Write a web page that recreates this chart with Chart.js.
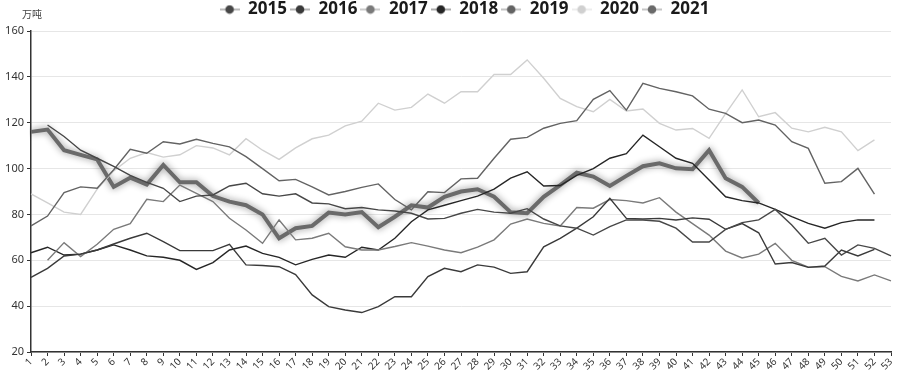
<!DOCTYPE html>
<html>
<head>
<meta charset="utf-8">
<script src="https://cdn.jsdelivr.net/npm/chart.js@4.4.1/dist/chart.umd.min.js"></script>
<style>
  html, body { margin: 0; padding: 0; background: #fff; }
  #wrap { width: 900px; height: 374px; position: relative; }
</style>
</head>
<body>
<div id="wrap"><canvas id="chart"></canvas></div>
<script>
// weekly stock, unit 万吨
const weeks = ['1','2','3','4','5','6','7','8','9','10','11','12','13','14','15','16','17','18','19','20',
  '21','22','23','24','25','26','27','28','29','30','31','32','33','34','35','36','37','38','39','40',
  '41','42','43','44','45','46','47','48','49','50','51','52','53'];

const years = ['2015', '2016', '2017', '2018', '2019', '2020', '2021'];

const y2015 = [null, 119, 114, 108, 104.5, 101, 97, 94, 91.4, 85.6, 88, 88.5, 92.4, 93.6, 89, 88, 89, 85, 84.6, 82.5,
  83, 82, 81.5, 80.5, 78, 78.3, 80.5, 82.2, 81, 80.5, 82.5, 78, 75, 74, 71, 74.7, 77.6, 77.6, 77, 74,
  68, 68, 73.5, 76.4, 77.6, 82.2, 75.4, 67.4, 69.6, 62.3, 66.7, 65.2, 61.9];

const y2016 = [52.5, 56.5, 61.9, 62.7, 64.5, 67.1, 69.6, 71.8, 68.1, 64.2, 64.2, 64.2, 67, 58, 57.7, 57.2, 53.8, 44.9, 39.8, 38.3,
  37.2, 39.8, 44.1, 44.1, 52.9, 56.5, 55, 58, 57, 54.3, 55, 65.9, 69.6, 74, 79, 87, 78.3, 78, 78.3, 77.6,
  78.5, 77.9, 73.5, 76, 72, 58.4, 59, 56.9, 57.5, 64.5, 61.9, 64.8];

const y2017 = [null, 60, 67.7, 61.6, 67, 73.5, 76, 86.6, 85.6, 92.8, 89.2, 85.6, 78.3, 73.2, 67.4, 77.6, 68.9, 69.6, 71.8, 65.9,
  64.5, 64.5, 66, 67.7, 66.2, 64.5, 63.3, 65.7, 68.9, 75.8, 78, 76.1, 75, 83, 82.7, 86.5, 86, 85, 87.3, 81,
  76, 71, 64, 61, 62.7, 67.4, 60, 57, 57.2, 53, 51, 53.6, 51];

const y2018 = [63.3, 65.7, 62.3, 62.7, 64.5, 66.7, 64.5, 61.9, 61.3, 60, 56, 59, 64.5, 66.2, 63, 61.3, 58, 60.4, 62.3, 61.3,
  65.7, 64.5, 69.6, 76.8, 82, 84, 86, 88, 91, 95.8, 98.6, 92.4, 92.6, 97, 100, 104.5, 106.5, 114.6, 109.5, 104.5,
  102.3, 95, 87.7, 86, 85, 82.2, 79, 76.1, 74, 76.4, 77.6, 77.6];

const y2019 = [75, 79.3, 89.5, 92, 91.4, 99.5, 108.4, 106.7, 111.7, 110.7, 112.8, 111, 109.5, 105.2, 100, 94.7, 95.3, 92, 88.5, 90,
  91.8, 93.3, 86.5, 82, 89.9, 89.5, 95.5, 95.8, 104.5, 112.8, 113.6, 117.6, 119.7, 120.9, 130.2, 134, 125.5, 137.2, 135, 133.5,
  131.7, 125.9, 124.1, 120, 121.2, 119, 111.7, 108.8, 93.6, 94.3, 100.1, 88.9];

const y2020 = [89, 85, 81, 80, 91, 99, 104.5, 107, 105, 106, 110, 109, 106, 113, 108, 104, 109, 113, 114.6, 118.6,
  120.7, 128.5, 125.5, 126.7, 132.5, 128.5, 133.5, 133.5, 141, 141, 147.4, 139.4, 130.6, 127, 124.8, 130.2, 125.1, 126, 119.7, 116.8,
  117.5, 113.2, 124, 134.3, 122.6, 124.4, 117.6, 116, 118, 116, 107.8, 112.5];

const y2021 = [116, 117, 108, 106, 104, 92, 96, 93, 101.6, 94, 94, 88, 85.6, 84, 80, 69.6, 74, 75, 80.8, 80,
  81, 74.4, 79, 84, 83, 87.7, 90, 91, 87.7, 81, 80.5, 87.7, 92.8, 98.2, 96.5, 92.4, 96.8, 101, 102.3, 100.1,
  99.7, 108, 95.8, 92, 85];

const yearData = [y2015, y2016, y2017, y2018, y2019, y2020, y2021];
const yearColors = ['#474747', '#3a3a3a', '#7a7a7a', '#262626', '#636363', '#d0d0d0', '#6a6a6a'];

const UNIT = '万吨';
const FONT = "'Noto Sans', 'Noto Sans CJK SC', sans-serif";

// legend marker: short line with a dot in the middle
function makeMarker(color) {
    const c = document.createElement('canvas');
    c.width = 20; c.height = 10;
    const g = c.getContext('2d');
    g.strokeStyle = color;
    g.globalAlpha = 0.5;
    g.lineWidth = 1.5;
    g.beginPath(); g.moveTo(0, 5); g.lineTo(20, 5); g.stroke();
    g.globalAlpha = 1;
    g.fillStyle = color;
    g.beginPath(); g.arc(10, 5, 4.3, 0, Math.PI * 2); g.fill();
    return c;
}
const markers = yearColors.map(makeMarker);

const datasets = years.map((yr, i) => ({
    label: yr,
    data: yearData[i],
    borderColor: yearColors[i],
    backgroundColor: yearColors[i],
    borderWidth: yr === '2021' ? 4 : 1.4,
    pointRadius: 0,
    pointHoverRadius: 0,
    tension: 0,
    fill: false,
}));

// soft shadow under the 2021 line
const shadowPlugin = {
    id: 'lineShadow',
    beforeDatasetDraw(chart, args) {
        if (chart.data.datasets[args.index].label !== '2021') return;
        const ctx = chart.ctx;
        ctx.save();
        ctx.shadowColor = 'rgba(0, 0, 0, 0.45)';
        ctx.shadowBlur = 7;
    },
    afterDatasetDraw(chart, args) {
        if (chart.data.datasets[args.index].label !== '2021') return;
        chart.ctx.restore();
    }
};

// legend height + position tweak
const legendPlacer = {
    id: 'legendPlacer',
    beforeInit(chart) {
        const fit = chart.legend.fit;
        chart.legend.fit = function () {
            fit.bind(chart.legend)();
            this.height = 31;
        };
    },
    afterLayout(chart) {
        chart.legend.left += 38;
        chart.legend.top -= 2;
    }
};

const unitPlugin = {
    id: 'unitLabel',
    afterDraw(chart) {
        const ctx = chart.ctx;
        ctx.save();
        ctx.font = "10px 'Noto Sans CJK SC'";
        ctx.fillStyle = '#444';
        ctx.textAlign = 'left';
        ctx.textBaseline = 'middle';
        ctx.fillText(UNIT, 22, 14);
        ctx.restore();
    }
};

new Chart(document.getElementById('chart'), {
    type: 'line',
    data: { labels: weeks, datasets: datasets },
    plugins: [shadowPlugin, legendPlacer, unitPlugin],
    options: {
        responsive: true,
        maintainAspectRatio: false,
        animation: false,
        layout: { padding: { left: 0, right: 9, top: 0, bottom: 0 } },
        scales: {
            x: {
                grid: { display: true, drawOnChartArea: false, tickLength: 4, color: '#333' },
                border: { color: '#333', width: 1.5 },
                ticks: {
                    autoSkip: false, minRotation: 45, maxRotation: 45, padding: 0,
                    color: '#333', font: { family: FONT, size: 10 },
                },
                afterFit(scale) { scale.height = 22; },
            },
            y: {
                min: 20,
                max: 160,
                ticks: { stepSize: 20, padding: 3, color: '#333', font: { family: FONT, size: 11 } },
                grid: { color: '#e6e6e6', tickColor: '#333', tickLength: 4 },
                border: { color: '#333', width: 1.5 },
                afterFit(scale) { scale.width = 31; },
            }
        },
        plugins: {
            tooltip: { enabled: false },
            legend: {
                position: 'top',
                labels: {
                    usePointStyle: true,
                    pointStyleWidth: 20,
                    boxHeight: 10,
                    padding: 3,
                    color: '#1a1a1a',
                    font: { family: FONT, size: 17, weight: 'bold' },
                    generateLabels(chart) {
                        const items = Chart.defaults.plugins.legend.labels.generateLabels(chart);
                        items.forEach((it, i) => { it.pointStyle = markers[i]; });
                        return items;
                    }
                }
            }
        }
    }
});
</script>
</body>
</html>
